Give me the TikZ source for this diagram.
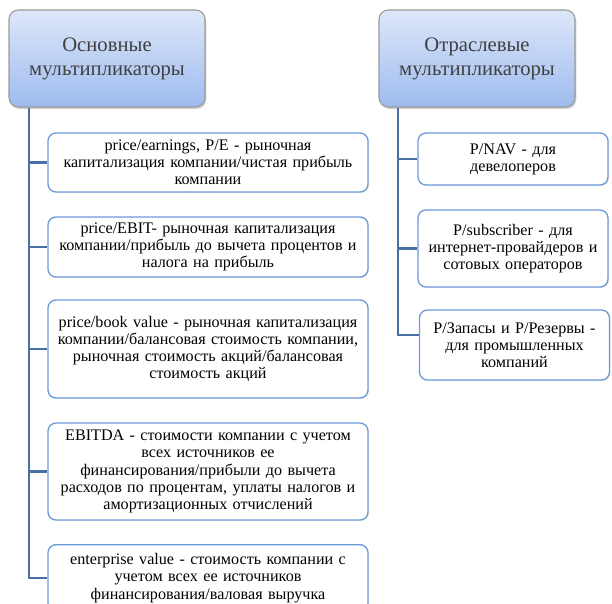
\documentclass[tikz,border=0pt]{standalone}
\usepackage{fontspec}
\setmainfont{Liberation Serif}
\usetikzlibrary{shadows}
\definecolor{headtop}{HTML}{DDE7F9}
\definecolor{headbot}{HTML}{9EBBEF}
\definecolor{headline}{HTML}{9A9A9A}
\definecolor{boxline}{HTML}{6C9BD9}
\definecolor{linkblue}{HTML}{4A6FA5}
\tikzset{
  header/.style={draw=headline, line width=0.8pt, rounded corners=7pt,
    top color=headtop, bottom color=headbot, text=black!75,
    minimum width=147pt, minimum height=72.75pt, text width=140pt,
    align=center, font=\fontsize{15.5}{18}\selectfont,
    drop shadow={opacity=0.35, shadow xshift=1pt, shadow yshift=-1.5pt}},
  item/.style={draw=boxline, line width=1pt, rounded corners=6pt, fill=white,
    align=center, font=\fontsize{12.1}{12.9}\selectfont, inner xsep=2pt, inner ysep=3pt,
    drop shadow={opacity=0.15, shadow xshift=0.8pt, shadow yshift=-0.8pt}},
  itemL/.style={item, text width=236pt},
  itemR/.style={item, text width=138.5pt},
  link/.style={draw=linkblue, line width=2.2pt}
}
\begin{document}
\begin{tikzpicture}[x=0.75pt, y=-0.75pt]
\useasboundingbox (0,0) rectangle (612,604);
\clip (0,0) rectangle (612,604);
\fill[white] (0,0) rectangle (612,604);
% trunks
\coordinate (trunkL) at (29,0);
\coordinate (trunkR) at (398,0);
% headers
\node[header] (main) at (107,58.5) {Основные\\ мультипликаторы};
\node[header] (branch) at (477,58.5) {Отраслевые\\ мультипликаторы};
% main multipliers
\node[itemL, minimum height=44.25pt] (pe) at (208,162.5)
  {price/earnings, P/E - рыночная\\ капитализация компании/чистая прибыль\\ компании};
\node[itemL, minimum height=45pt] (pebit) at (208,247)
  {price/EBIT- рыночная капитализация\\ компании/прибыль до вычета процентов и\\ налога на прибыль};
\node[itemL, minimum height=73.5pt] (pbv) at (208,349)
  {price/book value - рыночная капитализация\\ компании/балансовая стоимость компании,\\ рыночная стоимость акций/балансовая\\ стоимость акций};
\node[itemL, minimum height=72.75pt] (ebitda) at (208,471.5)
  {EBITDA - стоимости компании с учетом\\ всех источников ее\\ финансирования/прибыли до вычета\\ расходов по процентам, уплаты налогов и\\ амортизационных отчислений};
\node[itemL, minimum height=50pt] (ev) at (208,578)
  {enterprise value - стоимость компании с\\ учетом всех ее источников\\ финансирования/валовая выручка};
% branch multipliers
\node[itemR, minimum height=39pt] (pnav) at (513,159)
  {P/NAV - для\\ девелоперов};
\node[itemR, minimum height=57.75pt] (psub) at (513,248.5)
  {P/subscriber - для\\ интернет-провайдеров и\\ сотовых операторов};
\node[itemR, minimum height=52.5pt] (pres) at (514.5,345)
  {P/Запасы и P/Резервы -\\ для промышленных\\ компаний};
% connectors
\draw[link] (main.south -| trunkL) |- (ev.west);
\foreach \n in {pe,pebit,pbv,ebitda}
  \draw[link] (trunkL |- \n.west) -- (\n.west);
\draw[link] (branch.south -| trunkR) |- ([yshift=7.5pt]pres.west);
\foreach \n in {pnav,psub}
  \draw[link] (trunkR |- \n.west) -- (\n.west);
\end{tikzpicture}
\end{document}
